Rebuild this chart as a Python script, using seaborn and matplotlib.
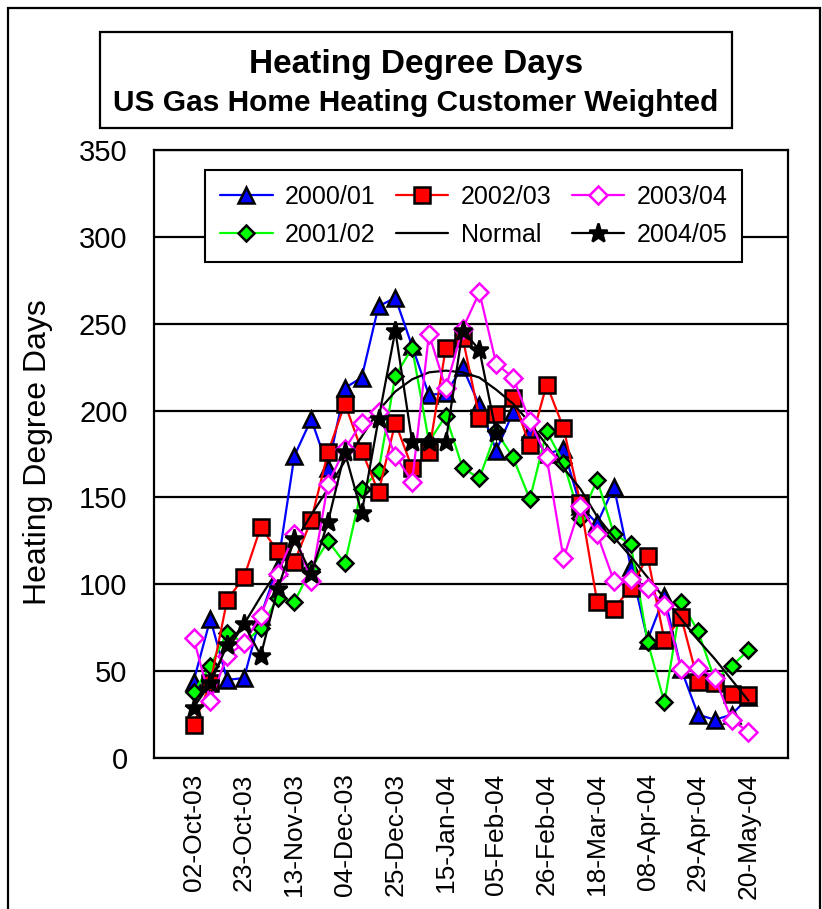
import numpy as np
import pandas as pd
import matplotlib
matplotlib.use("Agg")
import matplotlib.pyplot as plt
import seaborn as sns
from matplotlib.patches import Rectangle
from matplotlib.ticker import MultipleLocator, FixedLocator

# weekly heating degree days, week 0 = 02-Oct
tick_labels = ["02-Oct-03", "23-Oct-03", "13-Nov-03", "04-Dec-03", "25-Dec-03", "15-Jan-04",
               "05-Feb-04", "26-Feb-04", "18-Mar-04", "08-Apr-04", "29-Apr-04", "20-May-04"]

hdd_2000 = [44, 80, 45, 46, 82, 110, 174, 195, 167, 213, 219, 260, 265, 237, 209, 210, 225,
            203, 177, 199, 188, 175, 178, 145, 135, 156, 110, 68, 93, 51, 25, 22, 25, 35]
hdd_2001 = [38, 53, 72, 66, 75, 92, 90, 109, 125, 112, 155, 165, 220, 236, 182, 197, 167,
            161, 188, 173, 149, 188, 170, 138, 160, 129, 123, 67, 32, 90, 73, 45, 53, 62]
hdd_2002 = [19, 43, 91, 104, 133, 119, 113, 137, 176, 204, 177, 153, 193, 167, 176, 236, 242,
            196, 198, 207, 180, 215, 190, 147, 90, 86, 98, 116, 68, 81, 44, 43, 37, 36]
hdd_2003 = [69, 33, 59, 66, 82, 106, 129, 102, 158, 178, 193, 199, 174, 159, 244, 213, 247,
            268, 227, 219, 194, 173, 115, 145, 129, 102, 103, 98, 88, 51, 52, 46, 22, 15]
hdd_normal = [31, 46, 62, 77, 93, 108, 124, 140, 155, 171, 185, 200, 211, 218, 222, 223, 222,
              219, 212, 204, 193, 180, 167, 155, 139, 127, 116, 104, 92, 80, 68, 57, 45, 33]
hdd_2004 = [29, 43, 65, 77, 59, 97, 126, 106, 136, 176, 141, 195, 246, 182, 182, 182, 246,
            235, 187]

df = pd.DataFrame({
    "week": np.arange(len(hdd_normal)),
    "2000/01": hdd_2000,
    "2001/02": hdd_2001,
    "2002/03": hdd_2002,
    "2003/04": hdd_2003,
    "Normal": hdd_normal,
})
df["2004/05"] = pd.Series(hdd_2004)

sns.set_style("white")
plt.rcParams["font.family"] = ["Liberation Sans", "DejaVu Sans"]
plt.rcParams["text.color"] = "black"
plt.rcParams["axes.labelcolor"] = "black"
plt.rcParams["xtick.color"] = "black"
plt.rcParams["ytick.color"] = "black"

fig = plt.figure(figsize=(8.22, 9.09), dpi=100)
ax = fig.add_axes([154 / 822, 1 - 758 / 909, 634 / 822, 608 / 909])

styles = {
    "2000/01": dict(color="#0000ff", marker="^", mfc="#0000ff", ms=12),
    "2001/02": dict(color="#00ff00", marker="D", mfc="#00ff00", ms=8),
    "2002/03": dict(color="#ff0000", marker="s", mfc="#ff0000", ms=12),
    "Normal": dict(color="black", marker=None, mfc="none", ms=0),
    "2003/04": dict(color="#ff00ff", marker="D", mfc="white", ms=9),
    "2004/05": dict(color="black", marker="*", mfc="black", ms=14),
}

for name, st in styles.items():
    mec = st["color"] if name == "2003/04" else "black"
    sns.lineplot(data=df, x="week", y=name, ax=ax, color=st["color"], lw=1.6,
                 marker=st["marker"], markersize=st["ms"], markerfacecolor=st["mfc"],
                 markeredgecolor=mec, markeredgewidth=1.8, label=name, zorder=3)

ax.set_xlim(-2.35, 35.35)
ax.set_ylim(0, 350)
ax.yaxis.set_major_locator(MultipleLocator(50))
ax.grid(axis="y", color="black", lw=1.6)
ax.set_axisbelow(True)

ax.xaxis.set_major_locator(FixedLocator(np.arange(0, 34, 3)))
ax.xaxis.set_minor_locator(FixedLocator(np.arange(34)))
ax.set_xticklabels(tick_labels, rotation=90, fontsize=19)
ax.tick_params(axis="x", which="both", direction="in", length=11, width=1.5, pad=11)
ax.tick_params(axis="y", length=0, pad=19, labelsize=21)
ax.set_xlabel("")
ax.set_ylabel("Heating Degree Days", fontsize=23, va="center")
ax.yaxis.set_label_coords(-0.183, 0.503)

for sp in ax.spines.values():
    sp.set_color("black")
    sp.set_linewidth(1.6)

handles, labels = ax.get_legend_handles_labels()
order = ["2000/01", "2001/02", "2002/03", "Normal", "2003/04", "2004/05"]
hmap = dict(zip(labels, handles))
leg = ax.legend([hmap[k] for k in order], order, ncol=3, fontsize=18,
                loc="upper left", bbox_to_anchor=((205 - 154) / 634, (758 - 170) / 608),
                borderaxespad=0, frameon=True, fancybox=False, edgecolor="black",
                framealpha=1, handlelength=2.1, handletextpad=0.5, columnspacing=0.8,
                borderpad=0.6, labelspacing=0.55)
leg.get_frame().set_linewidth(1.5)

# title box
fig.patches.append(Rectangle((100 / 822, 1 - 128 / 909), 632 / 822, 96 / 909,
                             transform=fig.transFigure, fill=False, ec="black", lw=1.6))
fig.text(416 / 822, 1 - 65 / 909, "Heating Degree Days", ha="center", va="center",
         fontsize=24, fontweight="bold")
fig.text(416 / 822, 1 - 103 / 909, "US Gas Home Heating Customer Weighted", ha="center",
         va="center", fontsize=21.5, fontweight="bold")

# outer border
fig.patches.append(Rectangle((8 / 822, -0.01), 812 / 822, 1 - 8 / 909 + 0.01,
                             transform=fig.transFigure, fill=False, ec="black", lw=1.6))

fig.savefig("out.png", dpi=100)
